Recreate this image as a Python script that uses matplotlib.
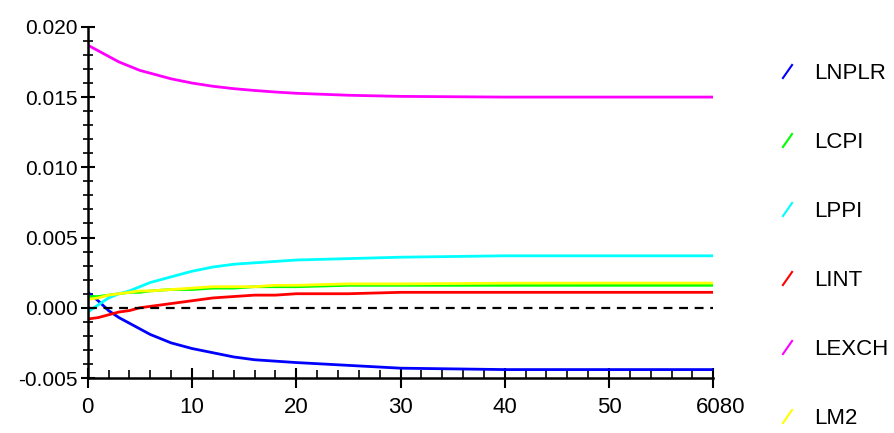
import matplotlib
matplotlib.use("Agg")
import matplotlib.pyplot as plt
import matplotlib.transforms as mtransforms
from matplotlib.lines import Line2D
from matplotlib.ticker import MultipleLocator

# horizon (periods) va gia tri doc tu hinh
periods = [0, 1, 2, 3, 4, 5, 6, 8, 10, 12, 14, 16, 18, 20, 25, 30, 40, 50, 60]

lnplr = [0.0011, 0.0005, -0.0002, -0.0007, -0.0011, -0.0015, -0.0019, -0.0025, -0.0029, -0.0032,
         -0.0035, -0.0037, -0.0038, -0.0039, -0.0041, -0.0043, -0.0044, -0.0044, -0.0044]
lcpi = [0.0008, 0.0008, 0.0009, 0.0010, 0.0011, 0.0011, 0.0012, 0.0013, 0.0013, 0.0014,
        0.0014, 0.0015, 0.0015, 0.0015, 0.0016, 0.0016, 0.0016, 0.0016, 0.0016]
lppi = [-0.0003, 0.0002, 0.0007, 0.0010, 0.0012, 0.0015, 0.0018, 0.0022, 0.0026, 0.0029,
        0.0031, 0.0032, 0.0033, 0.0034, 0.0035, 0.0036, 0.0037, 0.0037, 0.0037]
lint = [-0.0008, -0.0007, -0.0005, -0.0003, -0.0002, 0.0000, 0.0001, 0.0003, 0.0005, 0.0007,
        0.0008, 0.0009, 0.0009, 0.0010, 0.0010, 0.0011, 0.0011, 0.0011, 0.0011]
lexch = [0.0187, 0.0183, 0.0179, 0.0175, 0.0172, 0.0169, 0.0167, 0.0163, 0.0160, 0.01577,
         0.0156, 0.01547, 0.01536, 0.01527, 0.01513, 0.01505, 0.0150, 0.0150, 0.0150]
lm2 = [0.0006, 0.0007, 0.0009, 0.0010, 0.0011, 0.0012, 0.0012, 0.0013, 0.0014, 0.0015,
       0.0015, 0.0015, 0.0016, 0.0016, 0.0017, 0.0017, 0.00175, 0.00176, 0.00176]

series_names = ['LNPLR', 'LCPI', 'LPPI', 'LINT', 'LEXCH', 'LM2']
series_vals = [lnplr, lcpi, lppi, lint, lexch, lm2]
series_colors = ['#0000ff', '#00ff00', '#00ffff', '#ff0000', '#ff00ff', '#ffff00']

x_ticks = [0, 10, 20, 30, 40, 50, 60]
x_labels = ['0', '10', '20', '30', '40', '50', '6080']
y_ticks = [-0.005, 0.000, 0.005, 0.010, 0.015, 0.020]
y_labels = ['-0.005', '0.000', '0.005', '0.010', '0.015', '0.020']

plt.rcParams['font.family'] = ['Liberation Sans', 'DejaVu Sans']

fig = plt.figure(figsize=(8.95, 4.33), dpi=100)
ax = fig.add_axes([0.098, 0.127, 0.699, 0.811])

for vals, c in zip(series_vals, series_colors):
    ax.plot(periods, vals, color=c, linewidth=2.0, solid_capstyle='butt')

# duong 0 net dut
ax.plot([0, 60], [0, 0], color='black', linestyle=(0, (4, 3)), linewidth=1.6)

ax.set_xlim(0, 60)
ax.set_ylim(-0.005, 0.020)

for s in ['top', 'right']:
    ax.spines[s].set_visible(False)
for s in ['left', 'bottom']:
    ax.spines[s].set_linewidth(1.8)
    ax.spines[s].set_color('black')

ax.set_xticks(x_ticks)
ax.set_xticklabels(x_labels, fontsize=16)
ax.set_yticks(y_ticks)
ax.set_yticklabels(y_labels, fontsize=15)
ax.xaxis.set_minor_locator(MultipleLocator(2))
ax.yaxis.set_minor_locator(MultipleLocator(0.001))

ax.tick_params(axis='x', which='major', direction='inout', length=14, width=1.5, pad=7)
ax.tick_params(axis='x', which='minor', direction='in', length=6, width=1.2)
ax.tick_params(axis='y', which='major', direction='inout', length=10, width=1.5, pad=2)
ax.tick_params(axis='y', which='minor', direction='inout', length=7, width=1.2)

# nhan cuoi bi lech sang phai mot chut
last = ax.get_xticklabels()[-1]
last.set_transform(last.get_transform() + mtransforms.ScaledTranslation(0.07, 0, fig.dpi_scale_trans))

# legend voi ky hieu gach cheo
handles = [Line2D([], [], linestyle='none', marker=(2, 0, -35), markersize=13,
                  markeredgewidth=1.5, markeredgecolor=c, color=c)
           for c in series_colors]
fig.legend(handles, series_names, loc='upper left', bbox_to_anchor=(0.852, 0.880),
           frameon=False, fontsize=16, labelspacing=2.16, handlelength=1.2,
           handletextpad=0.6, borderpad=0)

plt.savefig('out.png', dpi=100)
